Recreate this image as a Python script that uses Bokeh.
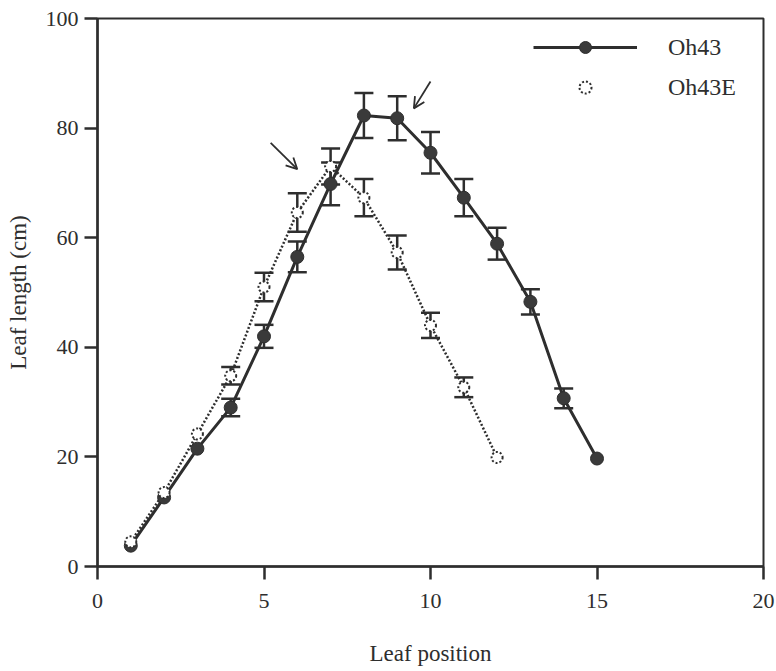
from bokeh.plotting import figure
from bokeh.models import (ColumnDataSource, Whisker, TeeHead, Arrow, OpenHead,
                          Legend, LegendItem, FixedTicker, Range1d)
from bokeh.embed import file_html
from bokeh.resources import INLINE

# ---- data ----
leaf_pos_oh43 = [1, 2, 3, 4, 5, 6, 7, 8, 9, 10, 11, 12, 13, 14, 15]
len_oh43 = [3.8, 12.6, 21.5, 29.0, 42.0, 56.5, 69.8, 82.3, 81.8, 75.5, 67.3, 58.9, 48.3, 30.7, 19.7]
err_oh43 = [0, 0, 0, 1.6, 2.1, 2.8, 3.9, 4.1, 4.0, 3.8, 3.4, 2.9, 2.3, 1.8, 0]

leaf_pos_oh43e = [1, 2, 3, 4, 5, 6, 7, 8, 9, 10, 11, 12]
len_oh43e = [4.5, 13.5, 24.2, 34.8, 51.0, 64.6, 73.0, 67.3, 57.3, 44.0, 32.7, 19.9]
err_oh43e = [0, 0, 0, 1.6, 2.6, 3.5, 3.3, 3.4, 3.1, 2.3, 1.8, 0]

series_names = ["Oh43", "Oh43E"]
x_ticks = [0, 5, 10, 15, 20]
y_ticks = [0, 20, 40, 60, 80, 100]

# annotation arrows (data coords): start x, start y, end x, end y
arrow_x0 = [5.2, 10.0]
arrow_y0 = [77.3, 88.5]
arrow_x1 = [6.0, 9.5]
arrow_y1 = [72.5, 83.6]

INK = "#2e2e2e"
FONT = "'Liberation Serif', 'Times New Roman', serif"

p = figure(width=776, height=671, output_backend="svg", toolbar_location=None,
           x_range=Range1d(0, 20), y_range=Range1d(0, 100),
           min_border_left=97, min_border_right=13, min_border_top=18,
           min_border_bottom=105)
p.background_fill_color = "white"
p.border_fill_color = "white"
p.grid.visible = False
p.outline_line_color = INK
p.outline_line_width = 2

for ax in (p.xaxis[0], p.yaxis[0]):
    ax.axis_line_color = INK
    ax.axis_line_width = 2.5
    ax.major_tick_line_color = INK
    ax.major_tick_line_width = 2.5
    ax.major_tick_out = 13
    ax.major_tick_in = 0
    ax.minor_tick_line_color = None
    ax.major_label_text_font = FONT
    ax.major_label_text_font_size = "22px"
    ax.major_label_text_color = INK
    ax.axis_label_text_font = FONT
    ax.axis_label_text_font_size = "23px"
    ax.axis_label_text_font_style = "normal"
    ax.axis_label_text_color = INK

p.xaxis.ticker = FixedTicker(ticks=x_ticks)
p.yaxis.ticker = FixedTicker(ticks=y_ticks)
p.xaxis.axis_label = "Leaf position"
p.yaxis.axis_label = "Leaf length (cm)"
p.xaxis.major_label_standoff = 14
p.xaxis.axis_label_standoff = 30
p.yaxis.major_label_standoff = 6
p.yaxis.axis_label_standoff = 12

src_a = ColumnDataSource(dict(x=leaf_pos_oh43, y=len_oh43))
src_b = ColumnDataSource(dict(x=leaf_pos_oh43e, y=len_oh43e))

ea = [i for i, e in enumerate(err_oh43) if e > 0]
eb = [i for i, e in enumerate(err_oh43e) if e > 0]
wsrc_a = ColumnDataSource(dict(x=[leaf_pos_oh43[i] for i in ea],
                               lo=[len_oh43[i] - err_oh43[i] for i in ea],
                               hi=[len_oh43[i] + err_oh43[i] for i in ea]))
wsrc_b = ColumnDataSource(dict(x=[leaf_pos_oh43e[i] for i in eb],
                               lo=[len_oh43e[i] - err_oh43e[i] for i in eb],
                               hi=[len_oh43e[i] + err_oh43e[i] for i in eb]))

for ws in (wsrc_b, wsrc_a):
    w = Whisker(source=ws, base="x", lower="lo", upper="hi",
                line_color=INK, line_width=2.5,
                upper_head=TeeHead(size=19, line_color=INK, line_width=2.5),
                lower_head=TeeHead(size=19, line_color=INK, line_width=2.5))
    p.add_layout(w)

lb = p.line("x", "y", source=src_b, line_color=INK, line_width=2.5, line_dash="2 2")
la = p.line("x", "y", source=src_a, line_color=INK, line_width=3)
sa = p.scatter("x", "y", source=src_a, marker="circle", size=13,
               fill_color="#3a3a3a", line_color=INK, line_width=1)
sb = p.scatter("x", "y", source=src_b, marker="circle", size=11,
               fill_color="white", line_color=INK, line_width=2)
sb.glyph.line_dash = [2, 2]

for i in range(len(arrow_x0)):
    p.add_layout(Arrow(end=OpenHead(size=11, line_color=INK, line_width=1.8),
                       x_start=arrow_x0[i], y_start=arrow_y0[i],
                       x_end=arrow_x1[i], y_end=arrow_y1[i],
                       line_color=INK, line_width=1.8))

legend = Legend(items=[LegendItem(label=series_names[0], renderers=[la, sa]),
                       LegendItem(label=series_names[1], renderers=[sb])],
                location=(436, 464), border_line_color=None,
                background_fill_alpha=0, padding=0, margin=0, spacing=10,
                glyph_width=104, glyph_height=30, label_standoff=31,
                label_text_font=FONT, label_text_font_size="24px",
                label_text_color=INK)
p.add_layout(legend)

open("out.html", "w").write(file_html(p, INLINE))
